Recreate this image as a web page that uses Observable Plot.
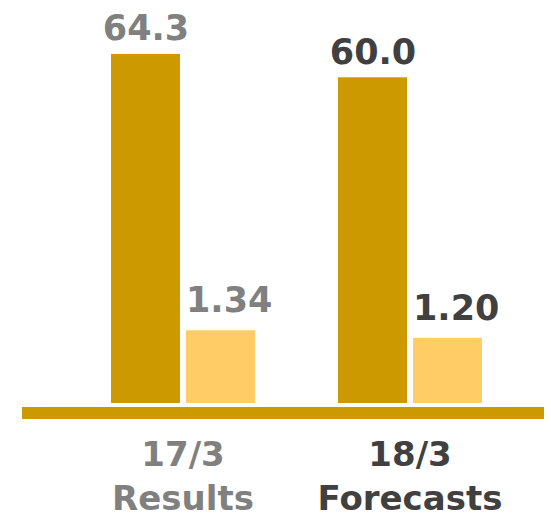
<!DOCTYPE html>
<html>
<head>
<meta charset="utf-8">
<script src="https://cdn.jsdelivr.net/npm/d3@7"></script>
<script src="https://cdn.jsdelivr.net/npm/@observablehq/plot@0.6"></script>
<style>
  html, body { margin: 0; padding: 0; background: #fff; }
  #chart svg { display: block; }
</style>
</head>
<body>
<div id="chart"></div>
<script>
// ---- data ----
const groups = ["17/3", "18/3"];
const groupNotes = ["Results", "Forecasts"];
const seriesNames = ["primary", "secondary"];
const primaryValues = [64.3, 60.0];
const secondaryValues = [1.34, 1.20];
// secondary series is drawn on its own axis, about 10x the primary axis scale
const secondaryRatio = 10;

// ---- styles ----
const seriesColors = ["#CC9900", "#FFCC66"];
const groupTextColors = ["#808080", "#404040"];

const rows = [];
groups.forEach((g, i) => {
  rows.push({group: g, series: seriesNames[0], value: primaryValues[i], plotted: primaryValues[i], label: primaryValues[i].toFixed(1)});
  rows.push({group: g, series: seriesNames[1], value: secondaryValues[i], plotted: secondaryValues[i] * secondaryRatio, label: secondaryValues[i].toFixed(2)});
});
const groupRows = groups.map((g, i) => ({group: g, note: groupNotes[i]}));

const marks = [];
seriesNames.forEach((s, j) => {
  marks.push(Plot.barY(rows.filter(d => d.series === s), {fx: "group", x: "series", y: "plotted", fill: seriesColors[j]}));
});
groups.forEach((g, i) => {
  marks.push(Plot.text(rows.filter(d => d.group === g && d.series === seriesNames[0]), {
    fx: "group", x: "series", y: "plotted", text: "label",
    lineAnchor: "bottom", dy: -14, fill: groupTextColors[i], fontSize: 35, fontWeight: "bold"
  }));
  marks.push(Plot.text(rows.filter(d => d.group === g && d.series === seriesNames[1]), {
    fx: "group", x: "series", y: "plotted", text: "label",
    lineAnchor: "bottom", textAnchor: "start", dx: -35, dy: -18.5, fill: groupTextColors[i], fontSize: 35, fontWeight: "bold"
  }));
  marks.push(Plot.text(groupRows.filter(d => d.group === g), {
    fx: "group", y: () => 0, text: d => d.group + "\n" + d.note,
    lineAnchor: "top", dy: 31, lineHeight: 1.3, fill: groupTextColors[i], fontSize: 34, fontWeight: "bold"
  }));
});

const chart = Plot.plot({
  width: 551,
  height: 518,
  marginTop: 23,
  marginBottom: 115,
  marginLeft: 41,
  marginRight: 0,
  style: {fontFamily: "DejaVu Sans", background: "#fff", overflow: "visible"},
  fx: {domain: groups, paddingInner: 0.36, paddingOuter: 0.3, axis: null, label: null},
  x: {domain: seriesNames, paddingInner: 0.08, paddingOuter: 0, axis: null, label: null},
  y: {domain: [0, 70], axis: null, label: null},
  marks
});

// baseline (axis bar) under the bars
const y0 = chart.scale("y").apply(0);
d3.select(chart).append("rect")
  .attr("x", 22).attr("width", 522)
  .attr("y", y0 + 4).attr("height", 12)
  .attr("fill", seriesColors[0]);

document.getElementById("chart").appendChild(chart);
</script>
</body>
</html>
